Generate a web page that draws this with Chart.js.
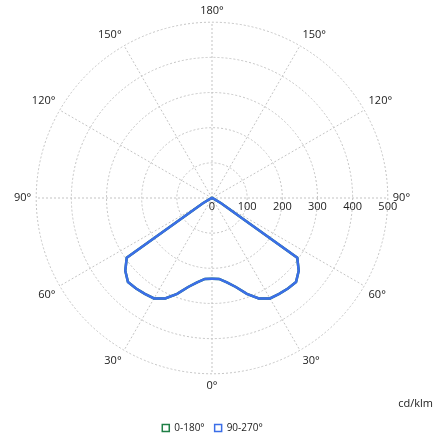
<!DOCTYPE html>
<html>
<head>
<meta charset="utf-8">
<script src="https://cdn.jsdelivr.net/npm/chart.js@4/dist/chart.umd.min.js"></script>
<style>
html,body{margin:0;padding:0;background:#fff;}
#wrap{width:447px;height:440px;}
</style>
</head>
<body>
<div id="wrap"><canvas id="c" width="447" height="440"></canvas></div>
<script>
// gamma angle (degrees from nadir) for each value
const gammaAngles = [0,5,10,15,20,25,30,35,40,45,50,55,60,65,70,75,80,85,90,95,100,105,110,115,120,125,130,135,140,145,150,155,160,165,170,175,180];
// luminous intensity, cd/klm
const intensityC0_180 = [230,231,244,262,290,315,330,333,336,338,322,296,30,6,0,0,0,0,0,0,0,0,0,0,0,0,0,0,0,0,0,0,0,0,0,0,0];
const intensityC90_270 = [230,231,244,262,290,315,330,333,336,338,322,296,30,6,0,0,0,0,0,0,0,0,0,0,0,0,0,0,0,0,0,0,0,0,0,0,0];
const radialTicks = [0,100,200,300,400,500];
const seriesNames = ['0-180°','90-270°'];
const seriesColors = ['#1f7f46','#3b6ee8'];
const unitLabel = 'cd/klm';
const FONT = '"Open Sans", "Noto Sans", sans-serif';

// Build polar order: clockwise from top (180°) -> right side down to 0° at bottom -> left side back up
const stepDeg = 5;
const nPos = 360 / stepDeg;
const positions = Array.from({length: nPos}, (_, i) => i * stepDeg);
const gammaAt = phi => (phi <= 180 ? 180 - phi : phi - 180);
const polarLabels = positions.map(phi => gammaAt(phi) + '°');
const toPolar = arr => positions.map(phi => arr[gammaAngles.indexOf(gammaAt(phi))]);

const tickTextPlugin = {
  id: 'radialTickText',
  afterDatasetsDraw(chart) {
    const s = chart.scales.r;
    const ctx = chart.ctx;
    ctx.save();
    ctx.font = '11px ' + FONT;
    ctx.fillStyle = '#222';
    ctx.textAlign = 'center';
    ctx.textBaseline = 'middle';
    radialTicks.forEach(v => {
      ctx.fillText(String(v), s.xCenter + s.getDistanceFromCenterForValue(v), s.yCenter + 9);
    });
    ctx.textAlign = 'right';
    ctx.fillText(unitLabel, chart.width - 14, 404);
    ctx.restore();
  }
};

new Chart(document.getElementById('c'), {
  type: 'radar',
  data: {
    labels: polarLabels,
    datasets: [
      {label: seriesNames[0], data: toPolar(intensityC0_180), borderColor: seriesColors[0], backgroundColor: '#ffffff', borderWidth: 2.5, fill: false, order: 2},
      {label: seriesNames[1], data: toPolar(intensityC90_270), borderColor: seriesColors[1], backgroundColor: '#ffffff', borderWidth: 2.5, fill: false, order: 1}
    ]
  },
  options: {
    responsive: false,
    animation: false,
    layout: {padding: {top: 4, right: 22, bottom: -3, left: 0}},
    elements: {line: {tension: 0}, point: {radius: 0, hoverRadius: 0}},
    scales: {
      r: {
        min: 0, max: 500, startAngle: 0,
        ticks: {display: false, stepSize: 100},
        grid: {circular: true, color: '#c4c4c4', lineWidth: 1},
        border: {dash: [2, 2]},
        angleLines: {
          display: true,
          color: ctx => (ctx.index % 6 === 0 ? '#c4c4c4' : 'rgba(0,0,0,0)'),
          lineWidth: ctx => (ctx.index % 6 === 0 ? 1 : 0),
          borderDash: [2, 2]
        },
        pointLabels: {
          display: true, padding: 5, color: '#222',
          font: {family: FONT, size: 11},
          callback: (l, i) => (i % 6 === 0 ? l : '')
        }
      }
    },
    plugins: {
      tooltip: {enabled: false},
      legend: {
        position: 'bottom',
        title: {display: true, text: '', padding: {top: 8, bottom: 0}, font: {size: 10}},
        labels: {
          boxWidth: 7, boxHeight: 7, padding: 10, color: '#222',
          font: {family: FONT, size: 10},
          sort: (a, b) => a.datasetIndex - b.datasetIndex,
          generateLabels: chart => Chart.defaults.plugins.legend.labels.generateLabels(chart)
            .map(it => Object.assign({}, it, {fillStyle: '#ffffff', lineWidth: 1.5}))
        }
      }
    }
  },
  plugins: [tickTextPlugin]
});
</script>
</body>
</html>
